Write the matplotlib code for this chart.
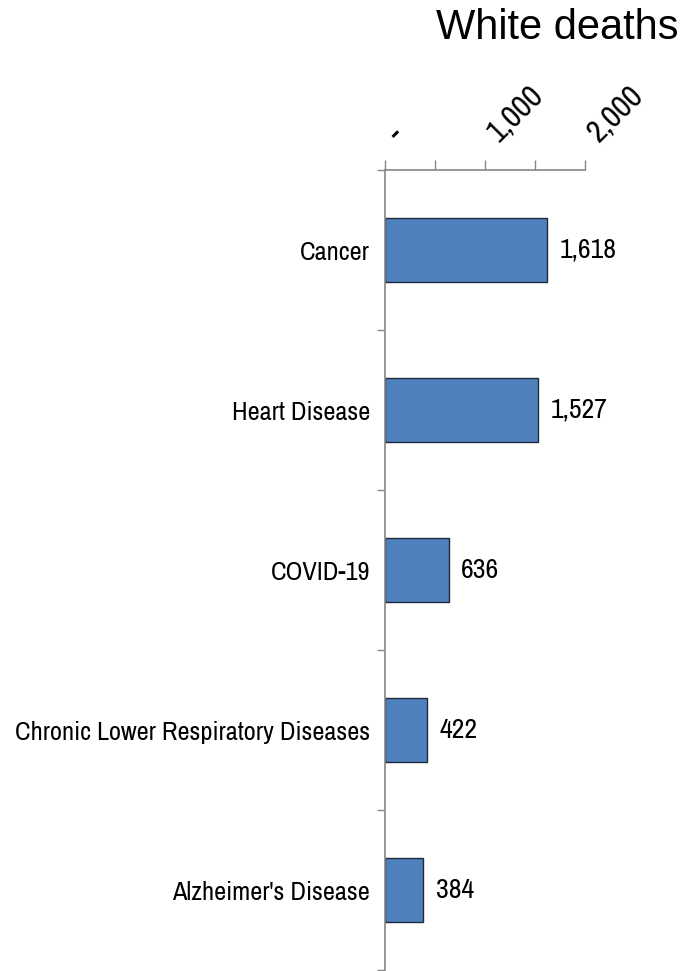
import matplotlib
matplotlib.use("Agg")
import matplotlib.pyplot as plt
from matplotlib.transforms import ScaledTranslation

categories = ["Cancer", "Heart Disease", "COVID-19",
              "Chronic Lower Respiratory Diseases", "Alzheimer's Disease"]
values = [1618, 1527, 636, 422, 384]
value_labels = ["1,618", "1,527", "636", "422", "384"]
xtick_values = [0, 500, 1000, 1500, 2000]
xtick_labels = ["-", "", "1,000", "", "2,000"]
title = "White deaths"

plt.rcParams['font.family'] = ["Archivo Narrow", "Roboto Condensed", "DejaVu Sans"]

fig = plt.figure(figsize=(6.82, 9.71), dpi=100)
W, H = 682, 971
ax = fig.add_axes([385 / W, 1 / H, 200 / W, 800 / H])

ypos = list(range(len(categories)))
ax.barh(ypos, values, height=0.4, color="#4f81bd", edgecolor="#1f2a3a", linewidth=1.0)
for y, v, lab in zip(ypos, values, value_labels):
    ax.text(v + 125, y, lab, va="center", ha="left", fontsize=20, color="black")

ax.set_xlim(0, 2000)
ax.set_ylim(len(categories) - 0.5, -0.5)

ax.xaxis.tick_top()
ax.set_xticks(xtick_values)
ax.set_xticklabels([""] * len(xtick_values))
ax.tick_params(axis="x", direction="out", length=7, width=1, color="#868686")
offset = ScaledTranslation(14 / 100, 27 / 100, fig.dpi_scale_trans)
for xv, lab in zip(xtick_values, xtick_labels):
    if lab:
        ax.text(xv, 1.0, lab, transform=ax.get_xaxis_transform() + offset,
                rotation=45, rotation_mode="anchor", ha="left", va="baseline",
                fontsize=23, color="black", clip_on=False)

ax.set_yticks(ypos)
ax.set_yticklabels(categories, fontsize=19)
ax.tick_params(axis="y", which="major", length=0, pad=10.8)
ax.set_yticks([i - 0.5 for i in range(len(categories) + 1)], minor=True)
ax.tick_params(axis="y", which="minor", length=5.8, width=1, color="#868686")

for s in ["right", "bottom"]:
    ax.spines[s].set_visible(False)
for s in ["top", "left"]:
    ax.spines[s].set_color("#868686")
    ax.spines[s].set_linewidth(1.2)

fig.text(678 / W, 1 - 28 / H, title, ha="right", va="center",
         fontsize=30, family=["Liberation Sans", "DejaVu Sans"])

fig.savefig("out.png", dpi=100)
